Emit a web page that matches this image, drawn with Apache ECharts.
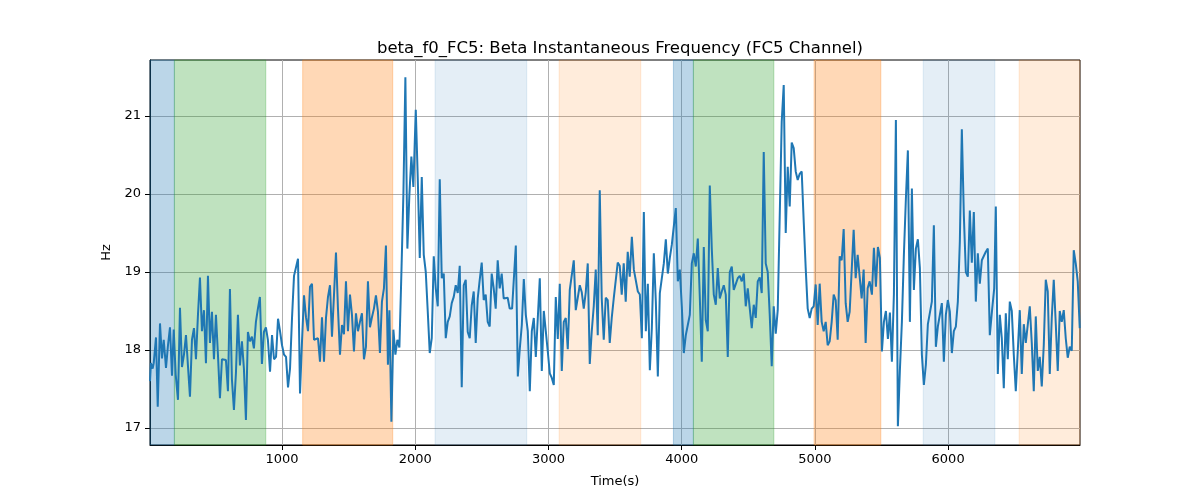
<!DOCTYPE html>
<html>
<head>
<meta charset="utf-8">
<script src="https://cdn.jsdelivr.net/npm/echarts@6/dist/echarts.min.js"></script>
<style>
html,body{margin:0;padding:0;background:#fff;}
#chart{width:1200px;height:500px;}
</style>
</head>
<body>
<div id="chart"></div>
<script>
// ---- data ----
const times = [
9,16,29,37,54,67,84,99,112,129,144,159,174,187,202,219,234,249,264,279,294,309,324,339,354,369,384,399,414,429,444,459,474,489,504,519,534,549,564,579,594,609,624,639,654,669,684,699,714,729,744,759,774,789,804,819,834,849,864,879,894,
910,925,940,955,970,985,1000,1015,1030,1045,1060,1075,1090,1105,1120,1135,1150,1165,1180,1195,1210,1225,1240,1255,1270,1285,1300,1315,1330,1345,1360,1375,1390,1405,1420,1435,1450,1465,1480,1495,1510,1525,1540,1555,1570,1585,1600,1615,1630,1645,1660,1675,1690,1705,1720,1735,1750,1765,1780,1795,
1806,1821,1836,1851,1866,1881,1896,1911,1926,1941,1956,1971,1986,2004,2019,2034,2049,2064,2079,2094,2109,2124,2139,2154,2169,2184,2199,2214,2229,2244,2259,2274,2289,2304,2319,2334,2349,2364,2379,2394,2409,2424,2439,2454,2469,2484,2499,2514,2529,2544,2559,2574,2589,2604,2619,2634,2649,2664,2679,2694,2709,
2727,2742,2755,2770,2785,2800,2815,2830,2845,2860,2875,2890,2905,2920,2935,2950,2965,2980,2995,3010,3025,3040,3055,3070,3085,3100,3115,3130,3145,3160,3175,3190,3205,3220,3235,3250,3265,3280,3295,3310,3325,3340,3355,3370,3385,3400,3415,3430,3445,3460,3475,3490,3505,3520,3535,3550,3565,3580,3595,3610,
3626,3641,3656,3671,3686,3701,3716,3731,3746,3761,3776,3791,3806,3821,3836,3851,3866,3881,3896,3911,3926,3941,3956,3971,3986,4001,4016,4031,4046,4061,4076,4091,4106,4121,4136,4151,4166,4181,4196,4211,4226,4241,4256,4271,4286,4301,4316,4331,4346,4361,4376,4391,4406,4421,4436,4451,4466,4481,4496,4511,
4526,4541,4556,4571,4586,4601,4616,4631,4646,4661,4676,4691,4706,4721,4736,4751,4766,4781,4796,4811,4826,4841,4856,4871,4886,4901,4916,4931,4946,4961,4976,4991,5006,5021,5036,5051,5066,5081,5096,5111,5126,5141,5156,5171,5186,5201,5216,5231,5246,5261,5276,5291,5306,5321,5336,5351,5366,5381,5396,5411,
5428,5443,5458,5473,5488,5503,5518,5533,5548,5563,5578,5593,5608,5623,5638,5653,5668,5683,5698,5713,5728,5743,5758,5773,5788,5803,5818,5833,5848,5863,5878,5893,5908,5923,5938,5953,5968,5983,5998,6013,6028,6043,6058,6073,6088,6103,6118,6133,6148,6163,6178,6193,6208,6223,6238,6253,6268,6283,6298,6313,
6331,6346,6358,6373,6388,6403,6418,6433,6448,6463,6478,6493,6508,6523,6538,6553,6568,6583,6598,6613,6628,6643,6658,6673,6688,6703,6718,6733,6748,6763,6778,6793,6808,6823,6838,6853,6868,6883,6898,6913,6928,6943,6958,6973,6988
];
const freqHz = [
17.6,17.83,17.76,17.83,18.16,17.27,18.34,17.89,18.13,17.77,18.06,18.29,17.67,18.26,17.68,17.36,18.54,17.78,17.94,18.19,18.19,17.40,18.13,18.28,17.88,18.45,18.93,18.24,18.51,17.83,18.95,18.09,18.49,17.88,18.45,17.94,17.38,17.88,17.87,17.87,17.47,18.78,17.62,17.23,17.70,18.45,17.80,18.11,17.76,17.10,18.23,18.11,18.17,18.02,18.36,18.53,18.68,17.82,18.23,18.29,18.13,
17.72,18.19,17.88,17.91,18.40,18.24,18.06,17.94,17.91,17.52,17.76,18.41,18.95,18.96,19.17,17.44,18.11,18.70,18.42,18.24,18.81,18.85,18.13,18.12,18.15,17.85,18.42,17.85,18.41,18.68,18.83,18.17,18.70,19.25,18.53,17.94,18.32,18.20,18.88,18.24,18.71,18.45,17.98,18.47,18.24,18.36,18.47,17.88,18.04,18.88,18.29,18.42,18.53,18.70,18.49,17.96,18.62,18.79,19.34,17.81,
18.51,17.08,18.26,17.94,18.13,18.03,18.98,19.99,21.50,19.30,19.99,20.48,20.09,21.08,20.20,19.18,20.22,19.22,19.00,18.49,17.96,18.15,19.20,18.79,18.56,20.19,18.92,18.98,18.15,18.36,18.43,18.60,18.68,18.83,18.73,19.08,17.52,18.83,18.90,18.23,18.15,18.57,18.75,18.09,18.66,18.90,19.12,18.64,18.71,18.36,18.30,18.98,18.79,18.53,19.15,18.79,18.98,18.66,18.68,18.67,18.53,
18.53,18.53,19.34,17.66,18.02,18.32,18.91,18.45,18.24,17.47,18.24,18.41,17.91,18.41,18.92,17.73,18.50,18.24,17.98,17.70,17.64,17.55,18.68,18.14,18.85,17.73,18.36,18.41,18.01,18.77,18.96,19.15,18.51,18.51,18.83,18.74,18.53,18.74,19.11,17.82,18.24,18.56,19.03,18.19,20.05,18.66,18.13,18.67,18.64,18.09,18.41,18.66,18.66,19.12,19.08,18.71,19.11,18.62,19.26,18.94,
19.45,19.03,19.05,18.75,18.71,18.15,19.77,18.24,18.85,17.74,18.28,19.24,18.62,17.66,18.73,18.73,19.11,19.42,18.98,19.18,19.35,19.37,19.82,18.88,19.03,18.56,17.96,18.19,18.32,18.45,19.11,19.24,19.07,19.43,18.68,17.85,19.32,18.38,18.24,20.11,19.30,18.71,18.58,19.05,18.66,18.75,18.83,18.71,17.91,19.00,19.07,18.77,18.78,18.92,18.95,18.88,18.98,18.56,18.79,18.77,
18.28,18.58,18.41,18.88,18.93,18.73,20.54,19.11,19.00,18.45,17.79,18.56,18.21,18.51,18.49,20.93,21.40,19.50,20.35,19.84,20.66,20.59,20.29,20.18,20.26,20.29,19.65,19.05,18.53,18.41,18.53,18.56,18.84,18.32,18.85,18.36,18.24,18.36,18.06,18.11,18.36,18.71,18.64,18.13,19.20,19.15,19.55,18.60,18.36,18.49,18.49,19.54,18.92,19.22,18.94,18.66,19.03,18.09,18.79,18.88,
18.71,19.31,18.81,19.32,19.18,17.98,18.36,18.50,18.14,18.48,17.85,18.71,20.95,17.02,17.74,18.36,19.22,19.94,20.56,18.36,20.07,18.77,19.30,19.42,19.05,17.94,17.55,17.81,18.33,18.33,18.62,19.60,18.04,18.30,18.45,18.60,17.85,18.45,18.64,18.49,17.96,18.24,18.30,18.62,19.39,20.83,19.73,19.00,18.94,19.79,19.12,19.77,18.62,19.24,18.85,19.15,19.15,19.26,19.30,18.19,
18.53,18.79,19.84,17.69,18.45,18.15,17.51,18.47,17.88,18.62,18.50,17.94,17.47,17.49,18.51,17.69,18.33,18.09,18.09,18.56,18.09,17.47,18.43,17.73,17.91,17.53,18.06,18.90,18.75,17.69,18.41,18.90,18.34,17.73,18.50,18.36,18.51,18.15,17.90,18.04,17.99,19.28,19.11,18.88,18.28
];
// shaded intervals: start, end, kind (0 blue, 1 green, 2 orange, 3 light blue, 4 light orange)
const spanStart = [9, 192, 1155, 2149, 3080, 3938, 4088, 4994, 5813, 6533];
const spanEnd   = [192, 878, 1831, 2837, 3693, 4088, 4692, 5495, 6351, 6990];
const spanKind  = [0, 1, 2, 3, 4, 0, 1, 2, 3, 4];
const xTicks = [1000, 2000, 3000, 4000, 5000, 6000];
const yTicks = [17, 18, 19, 20, 21];
const titleText = 'beta_f0_FC5: Beta Instantaneous Frequency (FC5 Channel)';

// ---- styles ----
const kindColors = [
  'rgba(31,119,180,0.3)',
  'rgba(44,160,44,0.3)',
  'rgba(255,127,14,0.3)',
  'rgba(31,119,180,0.12)',
  'rgba(255,127,14,0.15)'
];

const lineData = times.map((t, i) => [t, freqHz[i]]);
const areas = spanStart.map((s, i) => [
  { xAxis: s, itemStyle: { color: kindColors[spanKind[i]], borderColor: kindColors[spanKind[i]], borderWidth: 1 } },
  { xAxis: spanEnd[i] }
]);

const font = 'DejaVu Sans';
const chart = echarts.init(document.getElementById('chart'), null, { renderer: 'canvas' });
chart.setOption({
  animation: false,
  backgroundColor: '#fff',
  title: {
    text: titleText,
    left: 615, top: 35, textAlign: 'center',
    textStyle: { fontFamily: font, fontSize: 16.5, fontWeight: 'normal', color: '#000' }
  },
  grid: { left: 150, right: 120, top: 60, bottom: 55, show: true, borderColor: '#000', borderWidth: 1, backgroundColor: 'transparent' },
  xAxis: {
    type: 'value', min: 9, max: 6990,
    name: 'Time(s)', nameLocation: 'middle', nameGap: 30,
    nameTextStyle: { fontFamily: font, fontSize: 13, color: '#000' },
    axisLine: { show: true, onZero: false, lineStyle: { color: '#000', width: 1 } },
    axisTick: { show: true, inside: false, length: 5, customValues: xTicks, lineStyle: { color: '#000' } },
    axisLabel: { customValues: xTicks, formatter: v => String(v), fontFamily: font, fontSize: 13, color: '#000', margin: 8 },
    splitLine: { show: true, lineStyle: { color: '#b0b0b0', width: 1 } }
  },
  yAxis: {
    type: 'value', min: 16.78, max: 21.72,
    name: 'Hz', nameLocation: 'middle', nameGap: 36, nameRotate: 90,
    nameTextStyle: { fontFamily: font, fontSize: 13, color: '#000' },
    axisLine: { show: true, onZero: false, lineStyle: { color: '#000', width: 1 } },
    axisTick: { show: true, inside: false, length: 5, customValues: yTicks, lineStyle: { color: '#000' } },
    axisLabel: { customValues: yTicks, formatter: v => String(v), fontFamily: font, fontSize: 13, color: '#000', margin: 9 },
    splitLine: { show: true, lineStyle: { color: '#b0b0b0', width: 1 } }
  },
  series: [{
    type: 'line',
    data: lineData,
    showSymbol: false,
    symbol: 'none',
    lineStyle: { color: '#1f77b4', width: 2 },
    itemStyle: { color: '#1f77b4' },
    z: 3,
    markArea: { silent: true, data: areas, z: 1 }
  }]
});
</script>
</body>
</html>
